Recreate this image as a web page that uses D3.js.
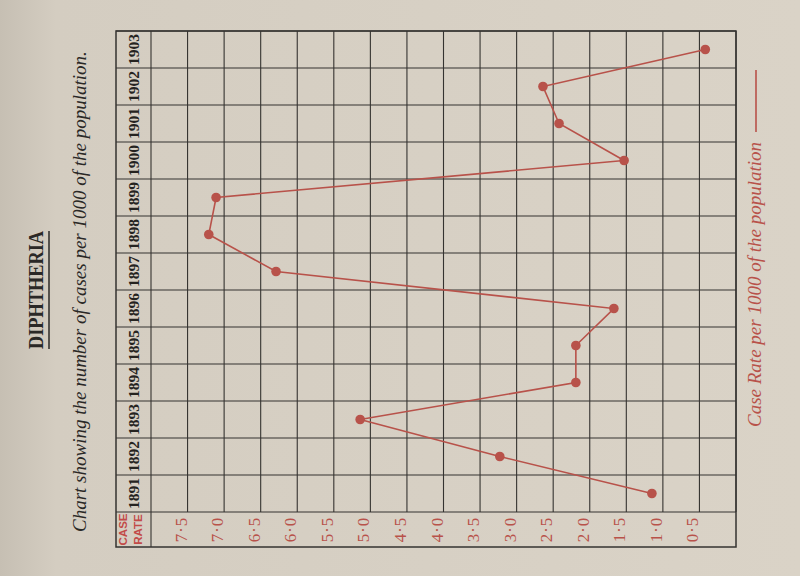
<!DOCTYPE html>
<html><head><meta charset="utf-8">
<script src="https://cdn.jsdelivr.net/npm/d3@7"></script>
<style>html,body{margin:0;padding:0;background:#d9d2c6;}svg{display:block;}</style>
</head><body>
<svg id="chart" width="800" height="576"></svg>
<script>
const years = [1891,1892,1893,1894,1895,1896,1897,1898,1899,1900,1901,1902,1903];
const caseRate = [1.15,3.23,5.14,2.19,2.19,1.67,6.29,7.21,7.11,1.53,2.42,2.64,0.42];
const rateTicks = [7.5,7.0,6.5,6.0,5.5,5.0,4.5,4.0,3.5,3.0,2.5,2.0,1.5,1.0,0.5];
const rateTickLabels = ["7·5","7·0","6·5","6·0","5·5","5·0","4·5","4·0","3·5","3·0","2·5","2·0","1·5","1·0","0·5"];
const titleText = "DIPHTHERIA";
const subtitleText = "Chart showing the number of cases per 1000 of the population.";
const legendText = "Case Rate per 1000 of the population";
const headerLines = ["CASE","RATE"];

const svg = d3.select("#chart");
const defs = svg.append("defs");
const g = defs.append("linearGradient").attr("id","paper").attr("x1","0").attr("x2","1").attr("y1","0").attr("y2","0");
g.append("stop").attr("offset","0").attr("stop-color","#c6bfb3");
g.append("stop").attr("offset","0.07").attr("stop-color","#d4cdc1");
g.append("stop").attr("offset","1").attr("stop-color","#dad3c7");
svg.append("rect").attr("width",800).attr("height",576).attr("fill","url(#paper)");

const frame = {left:116, labelCol:151, right:736, top:31, rowBottom:512, bottom:547};
const x = d3.scaleLinear().domain([0,8]).range([frame.right, frame.labelCol]);
const y = d3.scaleBand().domain(years).range([frame.rowBottom, frame.top]);

const ink = "#353330";
const red = "#b8524a";

// grid: vertical lines at each half unit
const vTicks = d3.range(0, 8.01, 0.5);
svg.append("g").selectAll("line").data(vTicks).join("line")
  .attr("x1", d=>x(d)).attr("x2", d=>x(d))
  .attr("y1", frame.top).attr("y2", d => (d===8 ? frame.bottom : frame.rowBottom))
  .attr("stroke", ink).attr("stroke-width", 1.1);
// horizontal lines at band boundaries
const hBounds = years.map(yr => y(yr)).concat([frame.rowBottom]);
svg.append("g").selectAll("line").data(hBounds).join("line")
  .attr("x1", frame.left).attr("x2", frame.right)
  .attr("y1", d=>d).attr("y2", d=>d)
  .attr("stroke", ink).attr("stroke-width", 1.1);
// outer frame
svg.append("rect").attr("x",frame.left).attr("y",frame.top)
  .attr("width",frame.right-frame.left).attr("height",frame.bottom-frame.top)
  .attr("fill","none").attr("stroke",ink).attr("stroke-width",1.5);

// year labels (rotated, reading bottom to top)
svg.append("g").selectAll("text").data(years).join("text")
  .attr("transform", d => `translate(${(frame.left+frame.labelCol)/2+5},${y(d)+y.bandwidth()/2}) rotate(-90)`)
  .attr("text-anchor","middle")
  .attr("font-family","'Liberation Serif','DejaVu Serif',serif")
  .attr("font-weight","bold").attr("font-size",15.5).attr("fill","#252320")
  .text(d=>d);

// rate tick labels
svg.append("g").selectAll("text").data(rateTicks).join("text")
  .attr("transform", (d,i) => `translate(${x(d)-1},${(frame.rowBottom+frame.bottom)/2}) rotate(-90)`)
  .attr("text-anchor","middle")
  .attr("font-family","'Liberation Serif','DejaVu Serif',serif")
  .attr("font-size",17).attr("letter-spacing",1).attr("fill",red)
  .text((d,i)=>rateTickLabels[i]);

// CASE RATE header
svg.append("g").selectAll("text").data(headerLines).join("text")
  .attr("transform", (d,i) => `translate(${frame.left+11+i*15},${(frame.rowBottom+frame.bottom)/2}) rotate(-90)`)
  .attr("text-anchor","middle")
  .attr("font-family","'Liberation Sans Narrow','Liberation Sans',Arial,sans-serif")
  .attr("font-weight","bold").attr("font-size",11.5).attr("fill","#c24a48")
  .text(d=>d);

// data line and points
const cy = d => y(d)+y.bandwidth()/2;
svg.append("path").datum(years)
  .attr("d", d3.line().x((d,i)=>x(caseRate[i])).y(d=>cy(d)))
  .attr("fill","none").attr("stroke",red).attr("stroke-width",1.6);
svg.append("g").selectAll("circle").data(years).join("circle")
  .attr("cx", (d,i)=>x(caseRate[i])).attr("cy", cy).attr("r", 4.8).attr("fill", red);

// title
const titleLen = 118;
svg.append("text")
  .attr("transform", `translate(43,290) rotate(-90)`)
  .attr("text-anchor","middle")
  .attr("font-family","'Liberation Serif','DejaVu Serif',serif")
  .attr("font-weight","bold").attr("font-size",21).attr("fill","#2a2826")
  .attr("textLength", titleLen).attr("lengthAdjust","spacingAndGlyphs")
  .text(titleText);
svg.append("line").attr("x1",49).attr("x2",49).attr("y1",290-titleLen/2).attr("y2",290+titleLen/2)
  .attr("stroke","#2a2826").attr("stroke-width",1.5);

// subtitle
svg.append("text")
  .attr("transform", `translate(86,532) rotate(-90)`)
  .attr("text-anchor","start")
  .attr("font-family","'Liberation Serif','DejaVu Serif',serif")
  .attr("font-style","italic").attr("font-size",19).attr("fill","#2a2826")
  .text(subtitleText);

// legend
svg.append("text")
  .attr("transform", `translate(761,142) rotate(-90)`)
  .attr("text-anchor","end")
  .attr("font-family","'Liberation Serif','DejaVu Serif',serif")
  .attr("font-style","italic").attr("font-size",19).attr("fill",red)
  .text(legendText);
svg.append("line").attr("x1",756).attr("x2",756).attr("y1",70).attr("y2",132)
  .attr("stroke",red).attr("stroke-width",1.6);
</script>
</body></html>
